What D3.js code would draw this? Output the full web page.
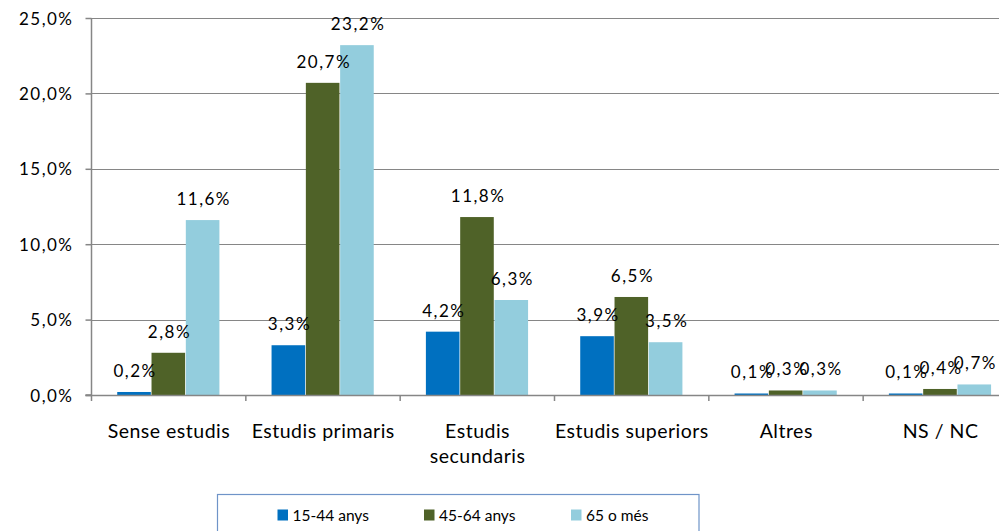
<!DOCTYPE html>
<html>
<head>
<meta charset="utf-8">
<script src="https://cdn.jsdelivr.net/npm/d3@7"></script>
<style>
  html, body { margin: 0; padding: 0; background: #fff; }
  svg { display: block; font-family: Lato, "Open Sans", sans-serif; }
</style>
</head>
<body>
<svg id="chart" width="999" height="531"></svg>
<script>
// Nivell d'estudis per grup d'edat (%)
const categories = ["Sense estudis", "Estudis primaris", "Estudis secundaris", "Estudis superiors", "Altres", "NS / NC"];
const categoryLines = [["Sense estudis"], ["Estudis primaris"], ["Estudis", "secundaris"], ["Estudis superiors"], ["Altres"], ["NS / NC"]];
const seriesNames = ["15-44 anys", "45-64 anys", "65 o més"];
const values15_44 = [0.2, 3.3, 4.2, 3.9, 0.1, 0.1];
const values45_64 = [2.8, 20.7, 11.8, 6.5, 0.3, 0.4];
const values65 = [11.6, 23.2, 6.3, 3.5, 0.3, 0.7];
const yTicks = [0, 5, 10, 15, 20, 25];
const colors = ["#0070C0", "#4F6228", "#93CDDD"];

const seriesValues = [values15_44, values45_64, values65];
const fmt = v => v.toFixed(1).replace(".", ",") + "%";

const svg = d3.select("#chart");
const plotLeft = 91.5, plotRight = 1017.5, plotTop = 18, plotBottom = 395;

const y = d3.scaleLinear().domain([0, 25]).range([plotBottom, plotTop]);
const x0 = d3.scaleBand().domain(categories).range([plotLeft, plotRight]).padding(0);
const x1 = d3.scaleBand().domain(seriesNames).range([0, x0.bandwidth()])
  .paddingInner(0).paddingOuter(0.75);

const grid = "#868686";
const numSize = 17, numSpacing = 1.5;

// horizontal gridlines
svg.append("g").selectAll("line").data(yTicks.filter(t => t > 0)).join("line")
  .attr("x1", plotLeft).attr("x2", plotRight)
  .attr("y1", d => Math.round(y(d)) + 0.5).attr("y2", d => Math.round(y(d)) + 0.5)
  .attr("stroke", grid).attr("stroke-width", 1);

// y axis
const yAxis = d3.axisLeft(y).tickValues(yTicks).tickFormat(fmt).tickSize(6).tickPadding(12);
const gy = svg.append("g").attr("transform", `translate(${plotLeft},0)`).call(yAxis);
gy.select(".domain").attr("stroke", grid).attr("stroke-width", 1.5).attr("d", `M-6,${plotBottom}H0V${plotTop}`);
gy.selectAll(".tick line").attr("stroke", grid).attr("stroke-width", 1.5);
gy.selectAll(".tick text").attr("font-size", numSize).attr("letter-spacing", numSpacing)
  .attr("fill", "#000").attr("font-family", "Lato, sans-serif").attr("dy", "0.36em");

// bars
const groups = svg.append("g").selectAll("g").data(categories).join("g")
  .attr("transform", d => `translate(${x0(d)},0)`);

const cells = (c, i) => seriesNames.map((s, k) => ({ s, k, v: seriesValues[k][i] }));

groups.selectAll("rect").data(cells).join("rect")
  .attr("x", d => x1(d.s))
  .attr("width", x1.bandwidth() - 0.7)
  .attr("y", d => y(d.v))
  .attr("height", d => plotBottom - y(d.v))
  .attr("fill", d => colors[d.k]);

// data labels
groups.selectAll("text").data(cells).join("text")
  .attr("x", d => x1(d.s) + x1.bandwidth() / 2 + numSpacing / 2)
  .attr("y", d => y(d.v) - 15)
  .attr("text-anchor", "middle")
  .attr("font-size", numSize)
  .attr("letter-spacing", numSpacing)
  .attr("fill", "#000")
  .text(d => fmt(d.v));

// x axis
svg.append("line").attr("x1", plotLeft - 6).attr("x2", plotRight).attr("y1", plotBottom + 0.5).attr("y2", plotBottom + 0.5)
  .attr("stroke", grid).attr("stroke-width", 1.5);
svg.append("g").selectAll("line").data(d3.range(categories.length + 1)).join("line")
  .attr("x1", i => plotLeft + i * x0.step()).attr("x2", i => plotLeft + i * x0.step())
  .attr("y1", plotBottom).attr("y2", plotBottom + 6)
  .attr("stroke", grid).attr("stroke-width", 1.5);

// category labels
const catText = svg.append("g").selectAll("text").data(categories).join("text")
  .attr("x", d => x0(d) + x0.bandwidth() / 2 + 0.25)
  .attr("y", 438)
  .attr("text-anchor", "middle")
  .attr("font-size", 19.5)
  .attr("letter-spacing", 0.5)
  .attr("fill", "#000");
catText.selectAll("tspan").data((d, i) => categoryLines[i]).join("tspan")
  .attr("x", function () { return d3.select(this.parentNode).attr("x"); })
  .attr("dy", (d, i) => i === 0 ? 0 : 24.5)
  .text(d => d);

// legend
const legend = svg.append("g");
legend.append("rect").attr("x", 217.5).attr("y", 494.5).attr("width", 481.5).attr("height", 60)
  .attr("fill", "#fff").attr("stroke", "#6F94C8").attr("stroke-width", 1.2);
const legendX = [277.5, 424, 571];
const items = legend.selectAll("g.item").data(seriesNames).join("g")
  .attr("transform", (d, i) => `translate(${legendX[i]},0)`);
items.append("rect").attr("x", 0).attr("y", 509.5).attr("width", 10.5).attr("height", 11)
  .attr("fill", (d, i) => colors[i]);
items.append("text").attr("x", 15).attr("y", 521).attr("font-size", 15.5).attr("fill", "#000").text(d => d);
</script>
</body>
</html>
